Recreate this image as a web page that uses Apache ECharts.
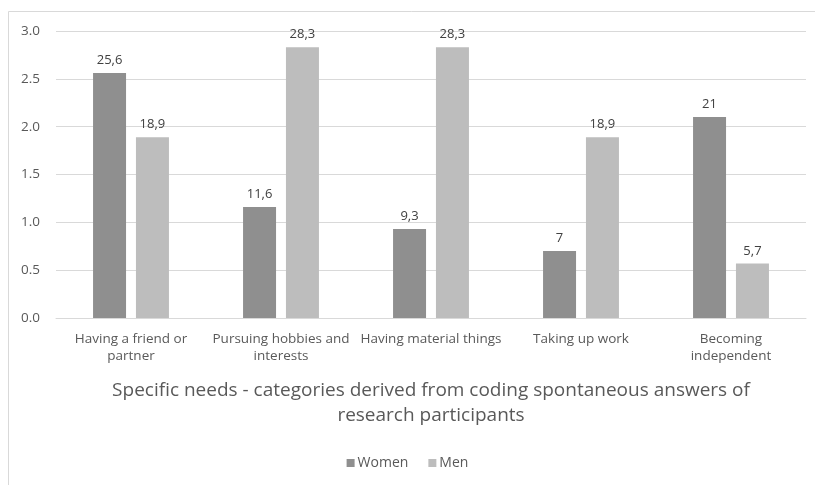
<!DOCTYPE html>
<html>
<head>
<meta charset="utf-8">
<script src="https://cdn.jsdelivr.net/npm/echarts@6/dist/echarts.min.js"></script>
<style>
  html, body { margin: 0; padding: 0; background: #fff; }
  #chart { width: 815px; height: 485px; }
</style>
</head>
<body>
<div id="chart"></div>
<script>
// Categories of specific needs (labels wrapped onto two lines where long)
const categories = [
  'Having a friend or\npartner',
  'Pursuing hobbies and\ninterests',
  'Having material things',
  'Taking up work',
  'Becoming\nindependent'
];
const seriesNames = ['Women', 'Men'];
const women = [25.6, 11.6, 9.3, 7, 21];
const men = [18.9, 28.3, 28.3, 18.9, 5.7];
// Axis tick values shown as tenths of the plotted percentages
const yTicks = [0, 5, 10, 15, 20, 25, 30];
const axisTitle = 'Specific needs - categories derived from coding spontaneous answers of\nresearch participants';

const font = '"Open Sans", "Noto Sans", sans-serif';
const comma = v => String(v).replace('.', ',');

const chart = echarts.init(document.getElementById('chart'), null, { renderer: 'canvas' });

const barLabel = {
  show: true,
  position: 'top',
  distance: 6,
  color: '#404040',
  fontFamily: font,
  fontSize: 13,
  formatter: p => comma(p.value)
};

chart.setOption({
  animation: false,
  backgroundColor: '#fff',
  textStyle: { fontFamily: font },
  graphic: [
    { type: 'line', shape: { x1: 8.5, y1: 11.5, x2: 815, y2: 11.5 }, style: { stroke: '#d9d9d9', lineWidth: 1 } },
    { type: 'line', shape: { x1: 8.5, y1: 11.5, x2: 8.5, y2: 485 }, style: { stroke: '#d9d9d9', lineWidth: 1 } }
  ],
  grid: { left: 56, right: 9, top: 31, bottom: 167, containLabel: false },
  legend: {
    bottom: 10,
    left: 'center',
    itemWidth: 8,
    itemHeight: 8,
    itemGap: 20,
    icon: 'rect',
    textStyle: { color: '#595959', fontSize: 14, fontFamily: font, padding: [0, 0, 0, -2] },
    data: seriesNames
  },
  xAxis: {
    type: 'category',
    data: categories,
    name: axisTitle,
    nameLocation: 'middle',
    nameGap: 60,
    nameTextStyle: { color: '#595959', fontSize: 19, fontFamily: font, lineHeight: 25 },
    axisLine: { lineStyle: { color: '#d9d9d9' } },
    axisTick: { show: false },
    axisLabel: { color: '#595959', fontSize: 13.5, fontFamily: font, margin: 13, lineHeight: 17, interval: 0 }
  },
  yAxis: {
    type: 'value',
    min: yTicks[0],
    max: yTicks[yTicks.length - 1],
    interval: yTicks[1] - yTicks[0],
    axisLine: { show: false },
    axisTick: { show: false },
    splitLine: { lineStyle: { color: '#d9d9d9', width: 1 } },
    axisLabel: {
      color: '#595959', fontSize: 13.5, fontFamily: font, margin: 16,
      formatter: v => (v / 10).toFixed(1)
    }
  },
  series: [
    {
      name: seriesNames[0], type: 'bar', data: women, barWidth: 33, barGap: '30%',
      itemStyle: { color: '#8f8f8f' }, label: barLabel
    },
    {
      name: seriesNames[1], type: 'bar', data: men, barWidth: 33,
      itemStyle: { color: '#bdbdbd' }, label: barLabel
    }
  ]
});
</script>
</body>
</html>
